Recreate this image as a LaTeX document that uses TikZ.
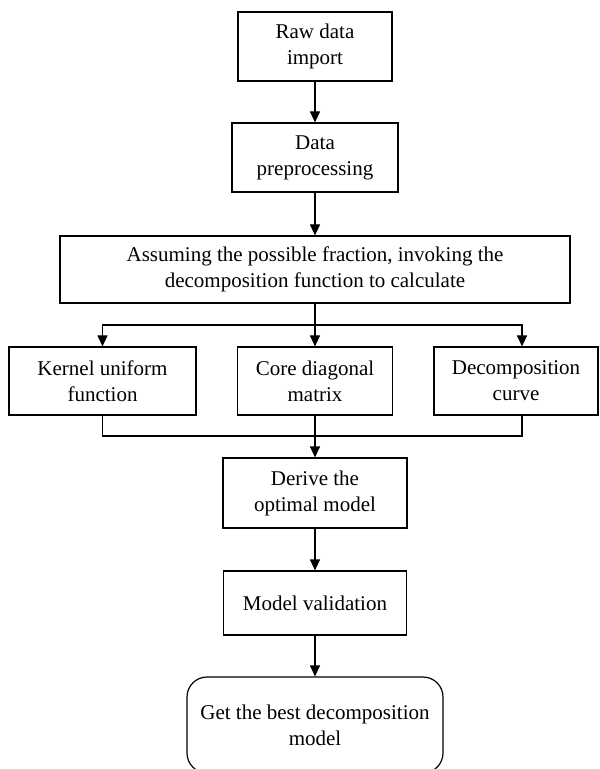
\documentclass[tikz,border=0pt]{standalone}
\usepackage{fontspec}
\setmainfont{Liberation Serif}
\usetikzlibrary{arrows.meta}

\begin{document}
\begin{tikzpicture}[x=0.5pt,y=-0.5pt,line width=0.6pt,
        >={Triangle[length=5.5pt,width=5pt]}]
        \clip (0,0) rectangle (599,769);
        \begin{scope}[every node/.style={rectangle,draw,align=center,
                        inner sep=0pt,font=\fontsize{10.5}{13}\selectfont}]
            \node[minimum width=77pt,minimum height=34.5pt] (raw) at (315,46.5) {Raw data\\import};
            \node[minimum width=83pt,minimum height=34.5pt] (pre) at (315,157.5) {Data\\preprocessing};
            \node[minimum width=255pt,minimum height=33.5pt] (assume) at (315,269.5)
                {Assuming the possible fraction, invoking the\\decomposition function to calculate};
            \node[minimum width=93.5pt,minimum height=34pt] (kernel) at (102.5,381) {Kernel uniform\\function};
            \node[minimum width=77.5pt,minimum height=34pt] (core) at (315,381) {Core diagonal\\matrix};
            \node[minimum width=82pt,minimum height=34pt] (decomp) at (516,381) {Decomposition\\curve};
            \node[minimum width=92pt,minimum height=35pt] (derive) at (315,493) {Derive the\\optimal model};
            \node[minimum width=91.5pt,minimum height=32pt] (valid) at (315,603) {Model validation};
            \node[minimum width=128pt,minimum height=48pt,rounded corners=10pt] (best) at (315,725)
                {Get the best decomposition\\model};
        \end{scope}

        \coordinate (split) at (315,325);
        \coordinate (join) at (315,436);

        \path[->] (raw) edge (pre);
        \path[->] (pre) edge (assume);
        \draw (assume.south) -- (split);
        \draw[->] (split) -- (core.north);
        \draw[->] (split) -| (kernel.north);
        \draw[->] (split) -| ([xshift=3pt]decomp.north);
        \draw (kernel.south) |- (join);
        \draw ([xshift=3pt]decomp.south) |- (join);
        \path[->] (core) edge (derive);
        \path[->] (derive) edge (valid);
        \path[->] (valid) edge (best);
    \end{tikzpicture}
\end{document}
